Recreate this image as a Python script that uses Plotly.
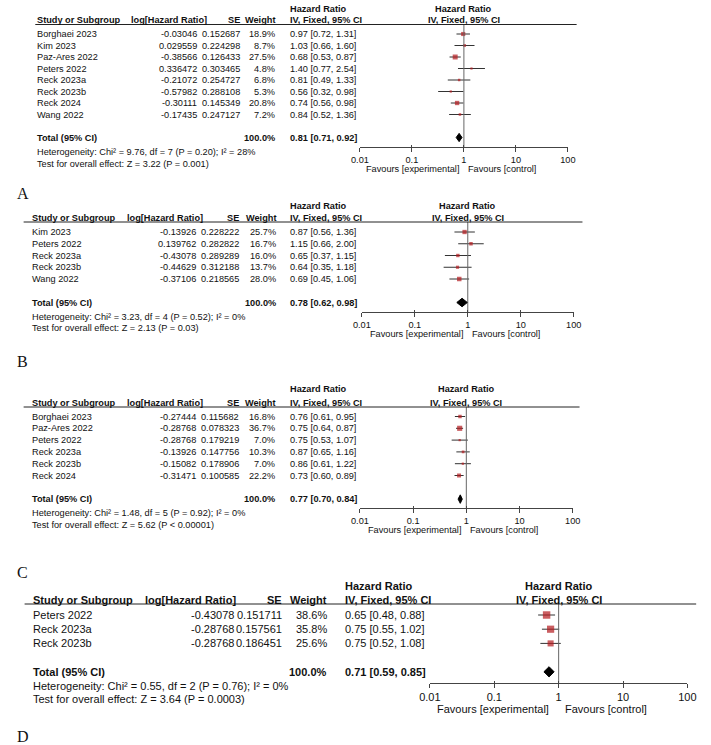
import math
import plotly.graph_objects as go

# ---------------- Data ----------------
# Panel A
a_studies = ["Borghaei 2023", "Kim 2023", "Paz-Ares 2022", "Peters 2022",
             "Reck 2023a", "Reck 2023b", "Reck 2024", "Wang 2022"]
a_loghr = [-0.03046, 0.029559, -0.38566, 0.336472, -0.21072, -0.57982, -0.30111, -0.17435]
a_se = [0.152687, 0.224298, 0.126433, 0.303465, 0.254727, 0.288108, 0.145349, 0.247127]
a_weight = [18.9, 8.7, 27.5, 4.8, 6.8, 5.3, 20.8, 7.2]
a_hr = [0.97, 1.03, 0.68, 1.40, 0.81, 0.56, 0.74, 0.84]
a_lo = [0.72, 0.66, 0.53, 0.77, 0.49, 0.32, 0.56, 0.52]
a_hi = [1.31, 1.60, 0.87, 2.54, 1.33, 0.98, 0.98, 1.36]
a_total = [0.81, 0.71, 0.92]
a_total_weight = 100.0
a_het = "Heterogeneity: Chi² = 9.76, df = 7 (P = 0.20); I² = 28%"
a_test = "Test for overall effect: Z = 3.22 (P = 0.001)"

# Panel B
b_studies = ["Kim 2023", "Peters 2022", "Reck 2023a", "Reck 2023b", "Wang 2022"]
b_loghr = [-0.13926, 0.139762, -0.43078, -0.44629, -0.37106]
b_se = [0.228222, 0.282822, 0.289289, 0.312188, 0.218565]
b_weight = [25.7, 16.7, 16.0, 13.7, 28.0]
b_hr = [0.87, 1.15, 0.65, 0.64, 0.69]
b_lo = [0.56, 0.66, 0.37, 0.35, 0.45]
b_hi = [1.36, 2.00, 1.15, 1.18, 1.06]
b_total = [0.78, 0.62, 0.98]
b_total_weight = 100.0
b_het = "Heterogeneity: Chi² = 3.23, df = 4 (P = 0.52); I² = 0%"
b_test = "Test for overall effect: Z = 2.13 (P = 0.03)"

# Panel C
c_studies = ["Borghaei 2023", "Paz-Ares 2022", "Peters 2022", "Reck 2023a",
             "Reck 2023b", "Reck 2024"]
c_loghr = [-0.27444, -0.28768, -0.28768, -0.13926, -0.15082, -0.31471]
c_se = [0.115682, 0.078323, 0.179219, 0.147756, 0.178906, 0.100585]
c_weight = [16.8, 36.7, 7.0, 10.3, 7.0, 22.2]
c_hr = [0.76, 0.75, 0.75, 0.87, 0.86, 0.73]
c_lo = [0.61, 0.64, 0.53, 0.65, 0.61, 0.60]
c_hi = [0.95, 0.87, 1.07, 1.16, 1.22, 0.89]
c_total = [0.77, 0.70, 0.84]
c_total_weight = 100.0
c_het = "Heterogeneity: Chi² = 1.48, df = 5 (P = 0.92); I² = 0%"
c_test = "Test for overall effect: Z = 5.62 (P < 0.00001)"

# Panel D
d_studies = ["Peters 2022", "Reck 2023a", "Reck 2023b"]
d_loghr = [-0.43078, -0.28768, -0.28768]
d_se = [0.151711, 0.157561, 0.186451]
d_weight = [38.6, 35.8, 25.6]
d_hr = [0.65, 0.75, 0.75]
d_lo = [0.48, 0.55, 0.52]
d_hi = [0.88, 1.02, 1.08]
d_total = [0.71, 0.59, 0.85]
d_total_weight = 100.0
d_het = "Heterogeneity: Chi² = 0.55, df = 2 (P = 0.76); I² = 0%"
d_test = "Test for overall effect: Z = 3.64 (P = 0.0003)"

tick_vals = [0.01, 0.1, 1, 10, 100]
tick_text = ["0.01", "0.1", "1", "10", "100"]

# ---------------- Layout geometry (reference pixels) ----------------
panels = [
    dict(label="A", studies=a_studies, loghr=a_loghr, se=a_se, weight=a_weight,
         hr=a_hr, lo=a_lo, hi=a_hi, total=a_total, tw=a_total_weight, het=a_het, test=a_test,
         top=0, bottom=178, row0=34, s=11.5, h1=8.5, h2=20, rule=24.5, axis=147,
         het_y=152, test_y=164, fav_y=169, x001=359, x100=573, rx0=25, rx1=582,
         c_study=26, c_lhr_head=122, c_lhr=192, c_se=237, c_w=273, c_hr=286,
         font=9.2, label_y=193, k=0.95, fav_dx=(-4, 3)),
    dict(label="B", studies=b_studies, loghr=b_loghr, se=b_se, weight=b_weight,
         hr=b_hr, lo=b_lo, hi=b_hi, total=b_total, tw=b_total_weight, het=b_het, test=b_test,
         top=180, bottom=342, row0=232, s=11.75, h1=206, h2=218, rule=222, axis=312,
         het_y=317, test_y=328, fav_y=334, x001=361, x100=579, rx0=13, rx1=588,
         c_study=21, c_lhr_head=118, c_lhr=191, c_se=236, c_w=274, c_hr=286,
         font=9.2, label_y=362, k=0.85, fav_dx=(-4, 3)),
    dict(label="C", studies=c_studies, loghr=c_loghr, se=c_se, weight=c_weight,
         hr=c_hr, lo=c_lo, hi=c_hi, total=c_total, tw=c_total_weight, het=c_het, test=c_test,
         top=378, bottom=545, row0=416.5, s=11.8, h1=389, h2=402.5, rule=407, axis=508,
         het_y=513, test_y=525, fav_y=530, x001=359, x100=578, rx0=13, rx1=585,
         c_study=21, c_lhr_head=118, c_lhr=191, c_se=236, c_w=273, c_hr=286,
         font=9.2, label_y=572, k=0.85, fav_dx=(-4, 3)),
    dict(label="D", studies=d_studies, loghr=d_loghr, se=d_se, weight=d_weight,
         hr=d_hr, lo=d_lo, hi=d_hi, total=d_total, tw=d_total_weight, het=d_het, test=d_test,
         top=575, bottom=722, row0=615, s=14.2, h1=586, h2=599.5, rule=604, axis=683,
         het_y=686, test_y=699, fav_y=709, x001=431, x100=696, rx0=14, rx1=705,
         c_study=22, c_lhr_head=137, c_lhr=230, c_se=280, c_w=326, c_hr=343,
         font=11, label_y=736, k=1.2, fav_dx=(-9, 5)),
]

W, H = 711, 745

SANS = "Liberation Sans, Arial, sans-serif"
SERIF = "Liberation Serif, Times New Roman, serif"
TXT = "#111111"
RED = "#b3191e"

fig = go.Figure()
annotations = []
shapes = []
layout_axes = {}


def px_x(px):
    return px / W


def px_y(py):
    return 1 - py / H


def fmt_ci(v, lo, hi):
    return f"{v:.2f} [{lo:.2f}, {hi:.2f}]"


for pi, p in enumerate(panels):
    n = len(p["studies"])
    idx = pi + 1
    xa = "x" if idx == 1 else f"x{idx}"
    ya = "y" if idx == 1 else f"y{idx}"
    xo = f"x{idx + 4}"
    r0, s = p["row0"], p["s"]

    def yi(py, r0=r0, s=s):
        return (py - r0) / s

    rows = list(range(n))
    t_row = n + 1
    fs = p["font"]

    # CI lines + weighted squares
    fig.add_trace(go.Scatter(
        x=p["hr"], y=rows, xaxis=xa, yaxis=ya, mode="markers",
        marker=dict(symbol="square", color=RED,
                    size=[max(2.2, p["k"] * math.sqrt(w)) for w in p["weight"]],
                    line=dict(width=0)),
        error_x=dict(type="data", symmetric=False,
                     array=[h - v for h, v in zip(p["hi"], p["hr"])],
                     arrayminus=[v - l for v, l in zip(p["hr"], p["lo"])],
                     color="#333333", thickness=1, width=0),
        cliponaxis=False, hoverinfo="skip"))

    # reference line at HR = 1
    fig.add_trace(go.Scatter(
        x=[1, 1], y=[yi(p["rule"]), yi(p["axis"])], xaxis=xa, yaxis=ya,
        mode="lines", line=dict(color="#666666", width=1),
        cliponaxis=False, hoverinfo="skip"))

    # pooled diamond
    tv, tl, th = p["total"]
    dh = 0.36
    fig.add_trace(go.Scatter(
        x=[tl, tv, th, tv, tl], y=[t_row, t_row - dh, t_row, t_row + dh, t_row],
        xaxis=xa, yaxis=ya, mode="lines", fill="toself", fillcolor="black",
        line=dict(color="black", width=1), cliponaxis=False, hoverinfo="skip"))

    # invisible trace for the overlay tick axis
    fig.add_trace(go.Scatter(x=[1], y=[0], xaxis=xo, yaxis=ya, mode="markers",
                             marker=dict(opacity=0), hoverinfo="skip"))

    dom_x = [px_x(p["x001"]), px_x(p["x100"])]
    layout_axes["xaxis" if idx == 1 else f"xaxis{idx}"] = dict(
        type="log", range=[-2, 2], domain=dom_x, anchor="free",
        position=px_y(p["axis"]), showline=True, linecolor="#444", linewidth=1,
        ticks="outside", ticklen=4, tickcolor="#444", tickwidth=1,
        tickvals=tick_vals, ticktext=tick_text, showgrid=False, zeroline=False,
        tickfont=dict(family=SANS, size=fs, color=TXT), fixedrange=True)
    layout_axes[f"xaxis{idx + 4}"] = dict(
        type="log", range=[-2, 2], domain=dom_x, anchor="free", overlaying=xa,
        position=px_y(p["axis"]), showline=False, ticks="inside", ticklen=2,
        tickcolor="#444", tickwidth=1, tickvals=tick_vals, showticklabels=False,
        showgrid=False, zeroline=False, fixedrange=True)
    layout_axes["yaxis" if idx == 1 else f"yaxis{idx}"] = dict(
        domain=[px_y(p["bottom"]), px_y(p["top"])],
        range=[yi(p["bottom"]), yi(p["top"])], visible=False, fixedrange=True)

    def ann(text, x, y, anchor="left", size=fs, xref="paper", yref=ya,
            family=SANS, xshift=0, color=TXT):
        annotations.append(dict(text=text, x=x, y=y, xref=xref, yref=yref,
                                xanchor=anchor, yanchor="middle", showarrow=False,
                                font=dict(family=family, size=size, color=color),
                                xshift=xshift, borderpad=0))

    # headers
    ann("<b>Hazard Ratio</b>", px_x(p["c_hr"]), yi(p["h1"]))
    ann("<b>Hazard Ratio</b>", 0, yi(p["h1"]), anchor="center", xref=xa)
    ann("<b>Study or Subgroup</b>", px_x(p["c_study"]), yi(p["h2"]))
    ann("<b>log[Hazard Ratio]</b>", px_x(p["c_lhr_head"]), yi(p["h2"]))
    ann("<b>SE</b>", px_x(p["c_se"]), yi(p["h2"]), anchor="right")
    ann("<b>Weight</b>", px_x(p["c_w"]), yi(p["h2"]), anchor="right")
    ann("<b>IV, Fixed, 95% CI</b>", px_x(p["c_hr"]), yi(p["h2"]))
    ann("<b>IV, Fixed, 95% CI</b>", 0, yi(p["h2"]), anchor="center", xref=xa)
    shapes.append(dict(type="line", xref="paper", yref="paper",
                       x0=px_x(p["rx0"]), x1=px_x(p["rx1"]),
                       y0=px_y(p["rule"]), y1=px_y(p["rule"]),
                       line=dict(color="#222", width=1)))

    # study rows
    for i in rows:
        ann(p["studies"][i], px_x(p["c_study"]), i)
        ann(str(p["loghr"][i]), px_x(p["c_lhr"]), i, anchor="right")
        ann(str(p["se"][i]), px_x(p["c_se"]), i, anchor="right")
        ann(f"{p['weight'][i]:.1f}%", px_x(p["c_w"]), i, anchor="right")
        ann(fmt_ci(p["hr"][i], p["lo"][i], p["hi"][i]), px_x(p["c_hr"]), i)

    # total row
    ann("<b>Total (95% CI)</b>", px_x(p["c_study"]), t_row)
    ann(f"<b>{p['tw']:.1f}%</b>", px_x(p["c_w"]), t_row, anchor="right")
    ann(f"<b>{fmt_ci(tv, tl, th)}</b>", px_x(p["c_hr"]), t_row)

    # footers
    ann(p["het"], px_x(p["c_study"]), yi(p["het_y"]))
    ann(p["test"], px_x(p["c_study"]), yi(p["test_y"]))
    ann("Favours [experimental]", 0, yi(p["fav_y"]), anchor="right", xref=xa,
        xshift=p["fav_dx"][0])
    ann("Favours [control]", 0, yi(p["fav_y"]), anchor="left", xref=xa,
        xshift=p["fav_dx"][1])

    # panel label
    annotations.append(dict(text=p["label"], x=px_x(5), y=px_y(p["label_y"]),
                            xref="paper", yref="paper", xanchor="left",
                            yanchor="middle", showarrow=False, borderpad=0,
                            font=dict(family=SERIF, size=16, color="#111")))

fig.update_layout(
    width=W, height=H, margin=dict(l=0, r=0, t=0, b=0),
    paper_bgcolor="white", plot_bgcolor="white", showlegend=False,
    annotations=annotations, shapes=shapes, **layout_axes)

fig.write_html("out.html", config={"displayModeBar": False},
               post_script="document.body.style.margin='0';window.scrollTo(0,0);")
